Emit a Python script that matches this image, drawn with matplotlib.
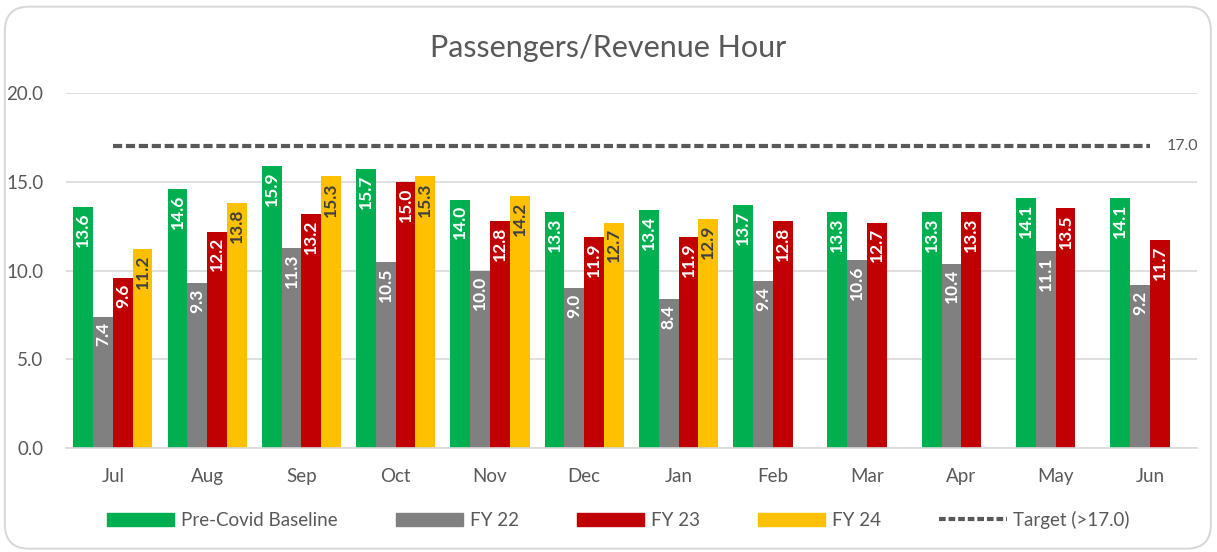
import matplotlib
matplotlib.use('Agg')
import matplotlib.pyplot as plt
import numpy as np
from matplotlib.patches import FancyBboxPatch
from matplotlib.lines import Line2D

months = ['Jul', 'Aug', 'Sep', 'Oct', 'Nov', 'Dec', 'Jan', 'Feb', 'Mar', 'Apr', 'May', 'Jun']
baseline = [13.6, 14.6, 15.9, 15.7, 14.0, 13.3, 13.4, 13.7, 13.3, 13.3, 14.1, 14.1]
fy22 = [7.4, 9.3, 11.3, 10.5, 10.0, 9.0, 8.4, 9.4, 10.6, 10.4, 11.1, 9.2]
fy23 = [9.6, 12.2, 13.2, 15.0, 12.8, 11.9, 11.9, 12.8, 12.7, 13.3, 13.5, 11.7]
fy24 = [11.2, 13.8, 15.3, 15.3, 14.2, 12.7, 12.9]
target = 17.0

TXT = '#595959'
plt.rcParams['font.family'] = ['Lato', 'DejaVu Sans']

fig = plt.figure(figsize=(12.17, 5.52), dpi=100)
# rounded chart border, kept behind the axes
fig.patches.append(FancyBboxPatch((0.004, 0.006), 0.991, 0.982,
                                  boxstyle='round,pad=0,rounding_size=0.02',
                                  mutation_aspect=2.2, zorder=-10,
                                  transform=fig.transFigure, fc='white', ec='#D9D9D9', lw=1.5))
ax = fig.add_axes([0.054, 0.188, 0.9296, 0.6435])
ax.patch.set_alpha(0)

x = np.arange(len(months))
w = 0.21
series = [
  (baseline, '#00B050', 'Pre-Covid Baseline', 'white'),
  (fy22, '#808080', 'FY 22', 'white'),
  (fy23, '#C00000', 'FY 23', 'white'),
  (fy24, '#FFC000', 'FY 24', '#404040'),
]
handles = []
for i, (vals, col, name, tcol) in enumerate(series):
  xs = x[:len(vals)] + (i - 1.5) * w
  bars = ax.bar(xs, vals, width=w, color=col, zorder=2)
  for b, v in zip(bars, vals):
    ax.annotate('%.1f' % v, (b.get_x() + b.get_width() / 2, v), xytext=(0, -4),
                textcoords='offset points', rotation=90, ha='center', va='top',
                fontsize=12.5, fontweight='bold', color=tcol, zorder=3)
  handles.append(plt.Rectangle((0, 0), 1, 1, color=col, label=name))

ax.plot(x, [target] * len(x), color=TXT, lw=3, ls=(0, (2.2, 0.9)), zorder=2)
ax.annotate('%.1f' % target, (x[-1], target), xytext=(12, 0), textcoords='offset points',
            va='center', ha='left', fontsize=11.5, color=TXT)
handles.append(Line2D([0], [0], color=TXT, lw=3, ls=(0, (1.6, 0.7)), label='Target (>17.0)'))

ax.set_xlim(-0.5, len(months) - 0.5)
ax.set_ylim(0, 20)
ax.set_yticks(np.arange(0, 20.1, 5))
ax.set_yticklabels(['%.1f' % t for t in np.arange(0, 20.1, 5)])
ax.set_xticks(x)
ax.set_xticklabels(months)
ax.tick_params(axis='both', length=0, labelsize=13.5, colors=TXT)
ax.tick_params(axis='y', pad=16)
ax.tick_params(axis='x', pad=14)
ax.grid(axis='y', color='#D9D9D9', lw=1.2, zorder=0)
ax.set_axisbelow(True)
for s in ['top', 'right', 'left']:
  ax.spines[s].set_visible(False)
ax.spines['bottom'].set_color('#D9D9D9')
ax.spines['bottom'].set_linewidth(1.2)

fig.text(0.5, 0.913, 'Passengers/Revenue Hour', ha='center', va='center', fontsize=22, color=TXT)
fig.legend(handles=handles, loc='center', bbox_to_anchor=(0.508, 0.058), ncol=5, frameon=False,
           fontsize=13.5, handlelength=3.6, handleheight=0.7, columnspacing=3.1, handletextpad=0.35,
           labelcolor=TXT)

plt.savefig('out.png', dpi=100)
